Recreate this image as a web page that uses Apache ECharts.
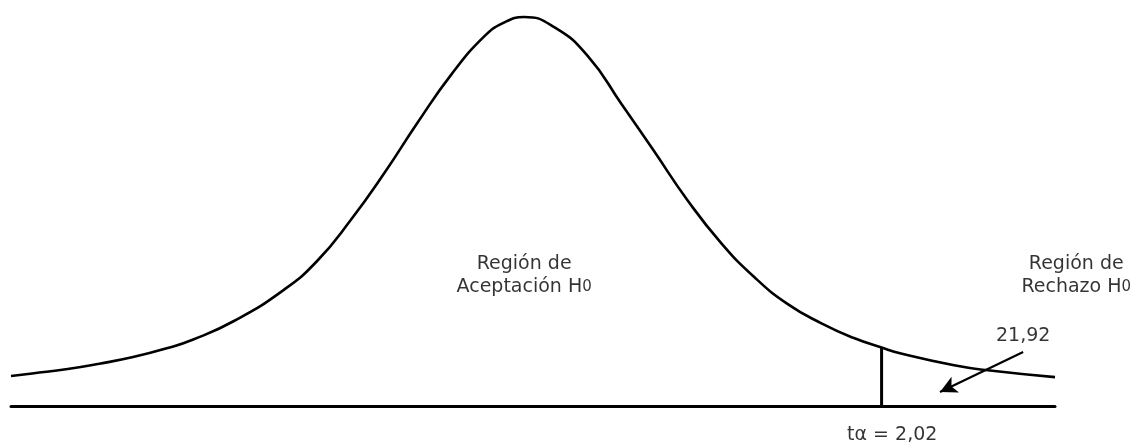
<!DOCTYPE html>
<html>
<head>
<meta charset="utf-8">
<script src="https://cdn.jsdelivr.net/npm/echarts@6/dist/echarts.min.js"></script>
<style>
html,body{margin:0;padding:0;background:#fff;}
#c{width:1135px;height:446px;}
</style>
</head>
<body>
<div id="c"></div>
<script>
// Curve (t units, relative density)
const curveT = [-2.90,-2.78,-2.58,-2.40,-2.21,-2.02,-1.87,-1.64,-1.36,-1.17,-0.98,-0.79,-0.60,-0.41,-0.23,-0.12,0.00,0.17,0.36,0.55,0.73,0.92,1.11,1.30,1.49,1.68,1.86,2.02,2.13,2.43,2.62,3.00];
const curveY = [0.0308,0.0335,0.0380,0.0435,0.0503,0.0593,0.0684,0.0874,0.1192,0.1491,0.1912,0.2395,0.2920,0.3413,0.3793,0.3937,0.4000,0.3896,0.3598,0.3105,0.2632,0.2124,0.1683,0.1326,0.1047,0.0850,0.0701,0.0601,0.0540,0.0419,0.0367,0.0297];
// Critical value line
const critT = 2.02;
const critY = 0.0601;
// Arrow (from -> to)
const arrowFrom = [2.82, 0.0555];
const arrowTo = [2.35, 0.0144];
// Text labels
const labelTexts = ['Región de\nAceptación H{s|0}', 'Región de\nRechazo H{s|0}', '21,92', 'tα = 2,02'];
const labelT = [0.00, 3.12, 2.82, 2.08];
const labelY = [0.134, 0.134, 0.072, -0.030];

const chart = echarts.init(document.getElementById('c'), null, {renderer:'canvas'});
const curveData = curveT.map((t,i)=>[t, curveY[i]]);
const labelData = labelT.map((t,i)=>({value:[t,labelY[i]], name: labelTexts[i]}));

chart.setOption({
  animation:false,
  backgroundColor:'#fff',
  grid:{left:11, right:80, top:17, bottom:40},
  xAxis:{type:'value', min:-2.9, max:3.0,
    axisLine:{show:true, onZero:true, lineStyle:{color:'#000', width:3}},
    axisTick:{show:false}, axisLabel:{show:false}, splitLine:{show:false}},
  yAxis:{type:'value', min:0, max:0.4,
    axisLine:{show:false}, axisTick:{show:false}, axisLabel:{show:false}, splitLine:{show:false}},
  series:[
    {type:'line', data:curveData, smooth:true, showSymbol:false, clip:false,
     lineStyle:{color:'#000', width:2.6},
     markLine:{silent:true, symbol:['none','arrow'], symbolSize:[13,17],
       lineStyle:{color:'#000', width:2.2, type:'solid'}, label:{show:false},
       data:[[{coord:arrowFrom},{coord:arrowTo}]]}},
    {type:'line', data:[[critT,0],[critT,critY]], showSymbol:false, clip:false,
     lineStyle:{color:'#000', width:3}},
    {type:'scatter', data:labelData, symbolSize:0, clip:false,
     label:{show:true, position:'inside', formatter:p=>p.name,
       fontFamily:'DejaVu Sans', fontSize:19, color:'#000', lineHeight:23, align:'center',
       rich:{s:{fontFamily:'DejaVu Sans', fontSize:15, color:'#000', lineHeight:20, verticalAlign:'bottom', padding:[0,0,4,0]}}}}
  ]
});
</script>
</body>
</html>
